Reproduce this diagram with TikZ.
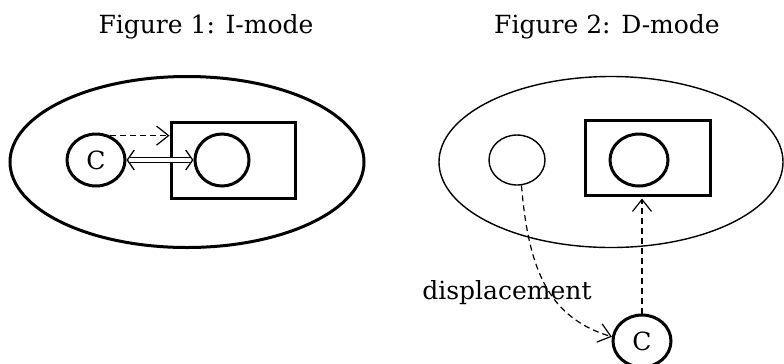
\documentclass[tikz,border=0pt]{standalone}
\usepackage{fontspec}
\setmainfont{DejaVu Serif}
\usetikzlibrary{shapes.geometric,arrows.meta}
\tikzset{
  lbl/.style={font=\fontsize{25bp}{30bp}\selectfont, inner sep=0pt},
  oval/.style={ellipse, draw, inner sep=0pt, minimum width=#1},
  heavy/.style={line width=3bp},
  light/.style={line width=1.4bp},
  framebox/.style={rectangle, draw, heavy, inner sep=0pt},
  dasharrow/.style={line width=1.2bp, dash pattern=on 6bp off 4bp,
    -{Straight Barb[length=12bp,width=19bp,line width=1.2bp]}},
  hollowline/.style={line width=1.1bp, double, double distance=4bp,
    shorten <=3bp, shorten >=3bp},
  hollowtips/.style={tips, line width=1.3bp,
    {Straight Barb[length=7bp,width=20bp]}-{Straight Barb[length=7bp,width=20bp]}}
}
\begin{document}
\begin{tikzpicture}[x=1bp,y=-1bp]
\useasboundingbox (0,0) rectangle (784,363);

% left panel: I-mode
\node[lbl] (titleL) at (206,27) {Figure 1: I-mode};
\node[oval=354bp, minimum height=171bp, heavy] (bigL) at (187,162) {};
\node[framebox, minimum width=124bp, minimum height=76bp] (boxL) at (233,160) {};
\node[oval=58bp, minimum height=52bp, heavy, lbl] (cL) at (96,160) {C};
\node[oval=54bp, minimum height=52bp, heavy] (inL) at (222,160) {};
\draw[dasharrow] (cL.60) -- (cL.60 -| boxL.west);
% hollow two-way arrow: double shaft plus open heads
\draw[hollowline] (cL.east) -- (inL.west);
\path[hollowtips] (cL.east) -- (inL.west);

% right panel: D-mode
\node[lbl] (titleR) at (607,27) {Figure 2: D-mode};
\node[oval=344bp, minimum height=171bp, light] (bigR) at (611,162) {};
\node[oval=56bp, minimum height=50bp, light] (ghostR) at (517,160) {};
\node[framebox, minimum width=125bp, minimum height=75bp] (boxR) at (647.5,157.5) {};
\node[oval=58bp, minimum height=52bp, heavy] (inR) at (639,160) {};
\node[oval=58bp, minimum height=52bp, heavy, lbl] (cR) at (642,341) {C};
\draw[dasharrow, shorten >=2bp] (cR.north) -- (cR.north |- boxR.south);
\draw[dasharrow] (ghostR.-80) .. controls +(7,85) and +(-63,-19) .. (cR.172);
\node[lbl] (displbl) at (507,293) {displacement};
\end{tikzpicture}
\end{document}
